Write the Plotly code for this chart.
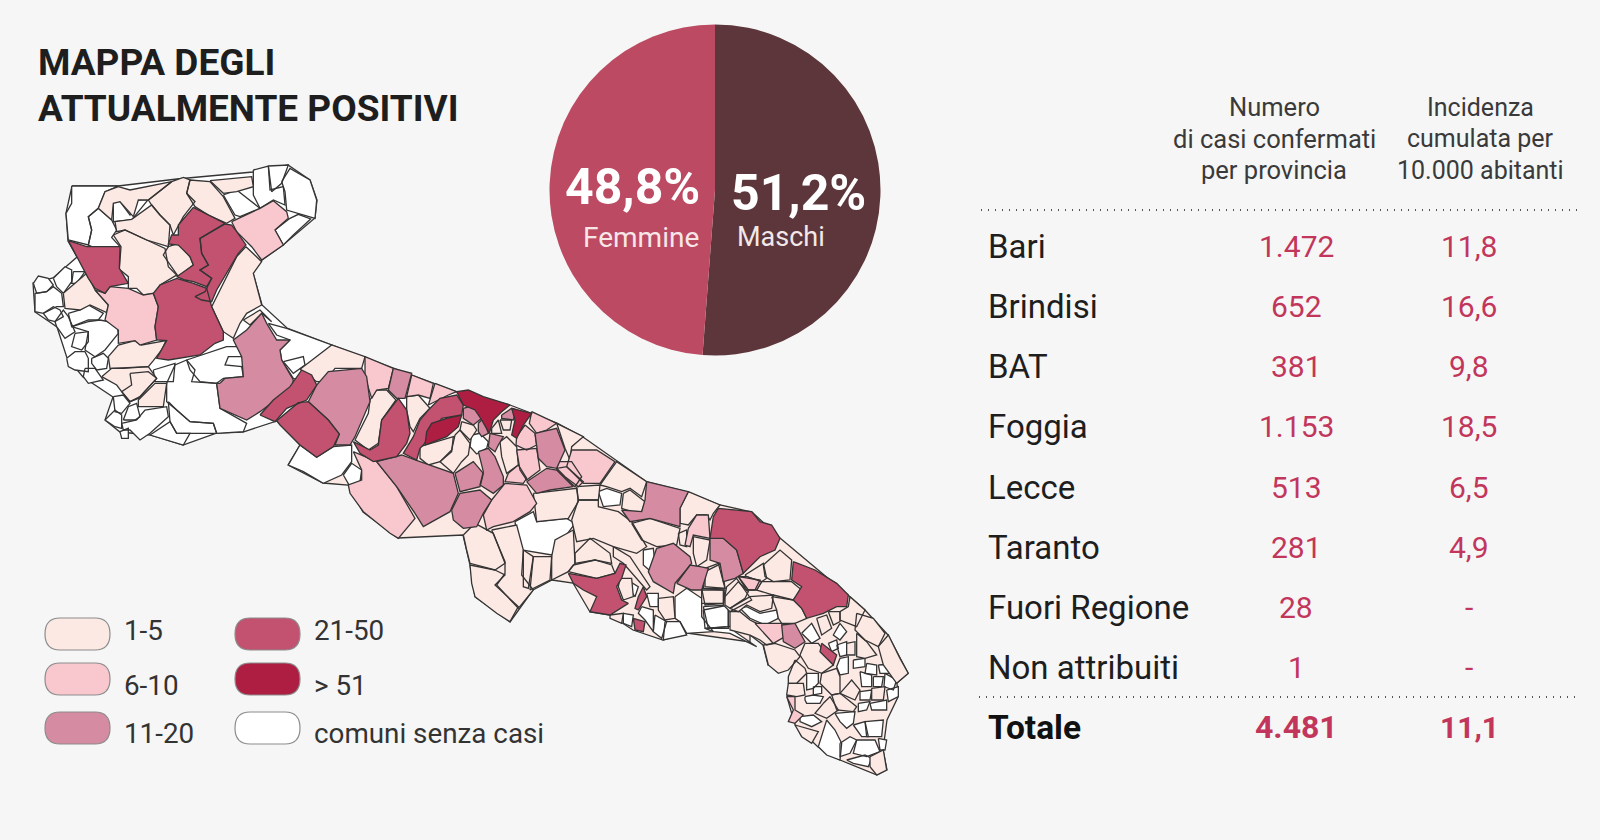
import plotly.graph_objects as go

FONT = "Roboto"
BG = "#F6F6F6"
INK = "#2B2B2B"
ACCENT = "#C2365C"

title_lines = ["MAPPA DEGLI", "ATTUALMENTE POSITIVI"]

sex_labels = ["Maschi", "Femmine"]
sex_values = [51.2, 48.8]
sex_colors = ["#5C363B", "#BB4A62"]

provinces = ["Bari", "Brindisi", "BAT", "Foggia", "Lecce", "Taranto", "Fuori Regione", "Non attribuiti"]
cases = ["1.472", "652", "381", "1.153", "513", "281", "28", "1"]
incidence = ["11,8", "16,6", "9,8", "18,5", "6,5", "4,9", "-", "-"]
total = ["Totale", "4.481", "11,1"]
header_cases = ["Numero", "di casi confermati", "per provincia"]
header_inc = ["Incidenza", "cumulata per", "10.000 abitanti"]

bin_names = ["comuni senza casi", "1-5", "6-10", "11-20", "21-50", "> 51"]
bin_colors = ["#FFFFFF", "#FDE9E4", "#F9C8CE", "#D58BA2", "#C25270", "#AD1E42"]

# Regional outline, map units
region_outline = [(72,186),(118,186),(177,179),(253,172),(288,165),(310,180),(317,200),(315,218),(283,245),(262,260),(253,273),(262,305),(287,328),(332,345),(365,357),(457,392),(510,405),(557,423),(583,437),(647,482),(688,492),(720,505),(752,512),(780,538),(848,595),(865,610),(888,635),(908,673),(897,683),(898,697),(887,720),(883,750),(887,770),(877,775),(840,760),(818,747),(795,725),(787,697),(795,660),(768,665),(763,645),(750,635),(750,642),(687,633),(663,640),(633,630),(610,615),(590,612),(573,583),(552,580),(533,590),(510,622),(475,597),(470,565),(463,535),(398,538),(363,512),(348,485),(323,483),(288,465),(300,445),(277,421),(243,432),(217,433),(183,445),(150,435),(120,432),(105,420),(113,397),(83,377),(67,358),(57,327),(35,312),(33,283),(53,278),(77,257),(68,241),(66,213)]
# Ground tone of the south-eastern provinces: the part of the outline from Bari round to Altamura
ground_from = 15
ground_to = 59

# Municipal outlines per area: (bin index, vertices); vertices in the area's own 3x map units
foggia_origin = (20, 150)
foggia = [
(0,[(155,108),(295,108),(255,125),(235,175),(205,200),(215,240),(205,285),(145,270),(138,190),(155,160)]),
(0,[(235,175),(275,210),(290,240),(275,262),(300,290),(240,300),(205,285),(215,240),(205,200)]),
(1,[(235,175),(255,125),(295,110),(330,120),(455,95),(385,150),(355,150),(340,200),(300,155),(280,160),(275,210)]),
(0,[(280,155),(300,155),(330,195),(350,150),(385,148),(335,210),(280,215)]),
(1,[(285,215),(335,208),(395,165),(420,195),(450,225),(445,290),(380,270),(315,240),(290,245)]),
(1,[(385,150),(455,95),(490,82),(510,90),(500,130),(525,155),(490,200),(460,255),(450,225),(420,195),(395,165)]),
(1,[(510,90),(570,95),(610,140),(645,205),(620,220),(565,195),(525,170),(500,130)]),
(1,[(570,92),(695,80),(700,110),(650,125),(610,130)]),
(0,[(700,60),(745,48),(750,120),(790,110),(795,165),(760,150),(720,175),(700,135)]),
(0,[(610,135),(650,120),(720,175),(660,200),(645,195)]),
(0,[(745,48),(805,45),(785,100),(755,125)]),
(0,[(785,95),(810,55),(870,90),(890,150),(885,205),(830,190),(800,180),(795,125)]),
(2,[(635,215),(720,175),(760,152),(800,185),(805,205),(765,240),(790,285),(725,330),(695,290),(650,245)]),
(0,[(765,240),(810,205),(835,193),(872,207),(820,255),(790,285)]),
(4,[(520,172),(615,220),(540,265),(545,310),(565,345),(540,360),(575,385),(560,410),(520,395),(495,390),(470,380),(520,345),(510,320),(475,285),(445,282),(455,255),(475,255),(475,225)]),
(4,[(615,222),(635,225),(650,245),(678,285),(655,310),(625,360),(590,420),(575,455),(545,450),(525,440),(555,425),(575,385),(540,360),(565,345),(545,310),(540,265)]),
(1,[(445,290),(475,280),(510,320),(520,345),(475,380),(450,345),(430,315)]),
(1,[(280,255),(315,240),(380,270),(435,295),(445,350),(470,375),(420,405),(410,430),(370,435),(350,415),(325,415),(325,380),(298,358),(303,290)]),
(4,[(145,272),(200,290),(300,290),(298,355),(325,400),(270,410),(255,430),(225,415),(205,385),(170,320)]),
(4,[(420,405),(445,395),(470,385),(520,400),(560,415),(575,470),(610,545),(610,570),(585,580),(540,615),(445,630),(410,625),(430,590),(440,572),(410,570),(405,530),(415,470),(400,430)]),
(1,[(678,290),(725,335),(700,370),(725,465),(680,490),(660,520),(640,565),(610,545),(575,470),(610,400),(650,320)]),
(2,[(225,420),(255,430),(270,410),(325,415),(370,435),(400,430),(415,470),(405,530),(410,570),(360,585),(345,572),(295,580),(295,540),(255,510),(265,465)]),
(1,[(265,620),(295,585),(345,572),(365,585),(438,572),(425,600),(400,632),(385,650),(310,655),(270,655)]),
(1,[(130,430),(200,370),(225,420),(265,465),(260,488),(210,465),(180,480),(135,475)]),
(0,[(40,400),(55,378),(85,385),(100,405),(80,425),(50,430)]),
(0,[(45,430),(80,425),(100,410),(125,430),(130,470),(110,470),(70,490),(45,485)]),
(0,[(100,385),(135,350),(155,360),(155,395),(130,430),(110,410)]),
(0,[(160,365),(195,365),(170,400),(155,400)]),
(0,[(70,490),(100,470),(120,480),(130,500),(105,515),(85,510)]),
(0,[(105,515),(130,480),(145,500),(165,545),(135,565),(110,530)]),
(0,[(145,490),(180,480),(205,465),(250,490),(235,510),(205,510),(155,530)]),
(0,[(155,530),(205,515),(240,510),(290,520),(295,550),(255,600),(225,620),(195,600),(205,545)]),
(0,[(165,550),(205,545),(205,575),(185,600),(155,590)]),
(0,[(140,625),(165,605),(195,605),(205,625),(205,665),(165,660),(145,650)]),
(0,[(215,625),(250,610),(265,625),(260,655),(230,660),(215,640)]),
(0,[(195,655),(225,655),(250,690),(205,700),(190,680)]),
(1,[(245,680),(275,655),(385,650),(410,685),(355,745),(330,755),(305,725),(290,705)]),
(1,[(330,670),(385,665),(410,685),(360,740),(330,755),(305,725),(335,705)]),
(1,[(355,750),(405,700),(440,700),(430,770),(355,770)]),
(0,[(400,660),(465,640),(460,695),(405,695)]),
(0,[(440,700),(465,645),(500,630),(525,660),(515,695),(590,700),(600,775),(680,820),(670,845),(590,850),(580,820),(510,815),(470,780),(440,755)]),
(0,[(500,630),(560,610),(620,590),(660,590),(670,620),(625,620),(615,645),(665,650),(670,680),(610,685),(590,700),(540,695),(510,660)]),
(3,[(600,700),(615,685),(670,680),(665,620),(640,570),(680,540),(725,490),(740,520),(770,570),(810,570),(780,600),(785,630),(820,690),(815,715),(780,740),(720,785),(680,810),(600,775),(590,700)]),
(0,[(745,520),(800,535),(935,585),(920,620),(880,630),(855,655),(835,690),(820,685),(785,630),(780,600),(810,570),(770,555)]),
(1,[(670,510),(720,480),(755,515),(725,490),(690,525)]),
(0,[(280,740),(310,735),(330,760),(305,790),(285,785)]),
(0,[(310,810),(325,770),(350,760),(360,800),(345,810)]),
(0,[(255,810),(285,780),(305,795),(305,835),(285,830)]),
(0,[(305,820),(350,810),(375,780),(440,770),(445,800),(390,850),(360,870),(330,840),(310,840)]),
(0,[(300,845),(325,835),(325,865),(305,865)]),
(0,[(390,855),(450,815),(470,850),(510,850),(490,885),(440,870)]),
(0,[(445,755),(470,780),(510,815),(580,820),(590,850),(510,850),(470,850),(450,815)]),
]

bari_origin = (250, 330)
bari = [
(4,[(30,255),(70,210),(120,170),(130,155),(155,120),(185,135),(200,165),(170,210),(110,235),(75,275)]),
(4,[(80,272),(145,218),(175,215),(235,270),(268,312),(250,350),(200,382),(150,345),(90,285)]),
(3,[(175,215),(200,165),(235,125),(335,115),(350,140),(360,215),(315,320),(300,345),(255,345),(268,312),(235,270)]),
(1,[(150,118),(245,45),(345,80),(335,115),(255,115),(225,155),(200,155)]),
(0,[(100,95),(160,80),(165,105),(130,130)]),
(2,[(345,80),(430,115),(415,175),(380,180),(365,205),(345,140)]),
(3,[(430,115),(485,130),(465,205),(440,205),(415,180)]),
(2,[(485,135),(550,160),(540,205),(505,195),(470,200)]),
(2,[(555,160),(620,185),(595,195),(535,225)]),
(1,[(380,180),(410,180),(438,210),(395,270),(385,340),(355,360),(315,330),(355,250),(360,210)]),
(4,[(310,335),(360,360),(385,345),(395,270),(445,205),(470,240),(480,310),(470,340),(440,380),(370,395),(330,370)]),
(1,[(470,200),(505,195),(540,235),(510,265),(490,305),(480,290),(470,240)]),
(4,[(535,240),(570,205),(620,195),(640,225),(635,255),(575,265),(520,345),(510,355),(500,390),(460,370),(490,320),(510,270)]),
(5,[(530,305),(545,280),(590,265),(635,255),(625,290),(590,320),(525,345)]),
(5,[(620,185),(655,180),(700,200),(780,225),(755,245),(730,270),(718,310),(695,270),(675,240),(640,225)]),
(3,[(640,235),(675,225),(695,265),(670,285),(640,265)]),
(1,[(635,275),(670,285),(680,300),(660,330),(630,300)]),
(3,[(685,280),(700,265),(715,310),(695,320),(685,305)]),
(0,[(665,315),(690,310),(715,335),(710,355),(680,372),(660,350)]),
(1,[(510,350),(610,320),(605,365),(570,395),(535,405),(510,385)]),
(1,[(615,315),(630,300),(660,340),(655,375),(635,395),(610,430),(570,395),(605,360)]),
(3,[(720,310),(760,320),(745,345),(735,365),(715,350)]),
(1,[(725,295),(745,270),(755,310),(725,310)]),
(1,[(750,270),(785,270),(780,300),(760,300)]),
(3,[(755,255),(785,235),(800,240),(790,270),(755,265)]),
(5,[(785,235),(845,250),(820,285),(800,325),(785,315),(795,270)]),
(2,[(845,245),(920,280),(890,300),(860,310),(838,280)]),
(2,[(825,285),(855,310),(860,345),(830,360),(798,345),(800,320)]),
(3,[(855,310),(920,295),(945,360),(920,415),(890,410),(865,385)]),
(1,[(920,280),(1000,320),(965,350),(960,390),(945,355)]),
(2,[(925,395),(965,395),(995,440),(975,470),(920,420)]),
(2,[(800,360),(860,355),(870,420),(830,450),(810,420)]),
(3,[(830,455),(890,415),(920,420),(970,470),(900,480),(860,490)]),
(1,[(750,335),(770,320),(800,350),(805,405),(770,430),(755,380)]),
(2,[(775,430),(805,405),(830,445),(820,460),(765,455)]),
(3,[(685,365),(715,355),(735,380),(760,440),(760,465),(730,490),(690,465),(700,425)]),
(3,[(615,430),(670,395),(700,430),(690,470),(630,485)]),
(3,[(380,395),(455,375),(510,395),(610,430),(625,490),(600,545),(520,590),(495,550),(440,470)]),
(3,[(605,540),(630,490),(690,480),(725,510),(700,550),(680,590),(640,595),(610,570)]),
(2,[(725,510),(765,460),(830,465),(860,520),(840,545),(790,575),(730,590),(710,600),(700,555)]),
(2,[(310,365),(380,395),(440,470),(495,565),(445,625),(420,610),(340,545),(300,490),(295,465),(335,450),(335,420)]),
(0,[(115,405),(150,345),(200,382),(250,350),(305,345),(305,395),(275,435),(220,460),(160,425)]),
(0,[(280,435),(305,400),(335,420),(330,455),(300,470)]),
]

taranto_origin = (450, 450)
taranto = [
(2,[(365,0),(440,0),(495,35),(450,100),(400,100),(350,50)]),
(2,[(320,55),(350,50),(400,95),(385,110),(345,80)]),
(1,[(250,130),(380,115),(385,155),(355,205),(260,215)]),
(1,[(380,110),(450,105),(445,150),(385,150)]),
(1,[(40,255),(75,220),(130,250),(165,340),(135,360),(60,340),(50,300)]),
(1,[(125,240),(200,225),(220,300),(215,375),(250,420),(205,475),(140,405),(165,370),(165,335)]),
(1,[(60,345),(135,360),(165,375),(135,405),(205,470),(180,515),(140,490),(75,440),(65,400)]),
(0,[(195,215),(250,185),(260,215),(350,205),(375,220),(305,315),(215,300),(200,250)]),
(1,[(220,300),(250,320),(235,415),(220,410)]),
(1,[(250,320),(305,320),(300,390),(240,420)]),
(1,[(305,320),(315,270),(370,240),(375,340),(355,365),(305,390)]),
(1,[(375,310),(420,265),(480,310),(485,340),(435,330),(375,340)]),
(1,[(370,345),(435,330),(485,345),(495,370),(440,385),(355,365)]),
(4,[(355,370),(440,385),(495,370),(510,340),(528,345),(515,385),(500,410),(515,450),(535,460),(480,495),(420,485),(440,440),(400,420),(370,400)]),
(4,[(580,410),(590,440),(565,480),(555,475),(565,440)]),
(4,[(550,505),(585,515),(580,545),(555,540)]),
(1,[(510,385),(545,385),(550,440),(520,450),(505,410)]),
(0,[(540,395),(565,410),(555,440),(540,420)]),
(0,[(520,490),(550,495),(545,530),(520,520)]),
(0,[(575,470),(610,480),(610,545),(585,510),(565,490)]),
(1,[(480,495),(520,490),(515,520),(480,505)]),
(0,[(615,495),(650,515),(635,565),(610,545)]),
(0,[(590,430),(625,430),(625,470),(600,470)]),
(0,[(645,515),(690,515),(710,555),(640,570)]),
(1,[(625,445),(670,440),(675,505),(645,510),(625,480)]),
(0,[(675,440),(710,415),(755,445),(755,500),(790,545),(710,550),(690,515),(675,505)]),
(0,[(760,480),(835,465),(835,530),(765,535)]),
(0,[(790,545),(765,535),(835,530),(855,525),(855,545),(900,575),(920,590),(840,550)]),
(1,[(365,210),(385,150),(445,150),(445,170),(505,185),(545,215),(590,290),(560,310),(490,290),(430,265),(380,275)]),
(0,[(445,125),(470,115),(515,130),(510,165),(460,170)]),
(1,[(520,130),(540,120),(585,155),(575,185),(545,185),(515,175)]),
(1,[(450,105),(500,35),(590,95),(575,140),(540,115),(515,125),(470,110)]),
(3,[(590,95),(715,125),(690,175),(690,230),(600,205),(540,215),(515,180),(575,185),(585,150)]),
(1,[(715,125),(810,165),(790,190),(780,210),(770,195),(740,195),(715,225),(690,220),(690,175)]),
(4,[(805,175),(905,185),(930,215),(965,225),(990,265),(975,300),(930,320),(880,370),(860,300),(820,265),(780,265),(790,200)]),
(1,[(545,220),(600,205),(690,235),(680,285),(620,290),(575,270)]),
(3,[(620,295),(670,280),(720,320),(725,340),(675,400),(670,430),(610,395),(595,365)]),
(3,[(680,400),(720,345),(750,350),(775,355),(755,420),(725,420)]),
(2,[(715,235),(740,195),(775,195),(780,265),(730,255),(720,290),(705,285)]),
(1,[(730,260),(780,270),(770,330),(740,350),(730,310)]),
(1,[(685,250),(710,240),(710,290),(690,285)]),
(3,[(780,265),(820,265),(860,300),(880,370),(855,385),(820,395),(810,340),(780,330)]),
(1,[(765,355),(805,340),(825,415),(760,415)]),
(1,[(755,420),(825,420),(820,460),(755,460)]),
(1,[(830,410),(860,385),(905,450),(840,485),(820,465)]),
(2,[(865,380),(930,390),(915,420),(890,420)]),
(1,[(490,290),(540,320),(600,410),(590,420),(520,340),(490,320)]),
(0,[(580,300),(610,295),(615,340),(600,362),(580,345)]),
]

salento_origin = (680, 540)
salento = [
(1,[(250,75),(300,30),(335,60),(330,120),(280,125),(255,110)]),
(1,[(195,105),(250,70),(260,115),(245,125),(200,110)]),
(2,[(175,110),(200,110),(245,125),(230,150),(205,150)]),
(1,[(135,170),(175,125),(205,155),(195,175),(150,205),(135,195)]),
(0,[(70,200),(145,195),(145,265),(85,265)]),
(1,[(65,145),(130,150),(130,190),(75,195)]),
(1,[(75,95),(125,70),(135,145),(75,140)]),
(1,[(150,205),(210,170),(280,165),(275,205),(240,215),(200,195),(175,215)]),
(1,[(245,125),(280,125),(335,125),(365,150),(340,180),(280,165),(230,150)]),
(1,[(275,170),(340,180),(365,205),(380,235),(345,250),(305,250),(295,235),(290,210)]),
(0,[(180,205),(200,200),(240,220),(290,210),(295,235),(255,255),(210,235)]),
(1,[(150,215),(180,215),(210,240),(230,250),(280,310),(260,315),(240,300),(210,285),(150,270)]),
(2,[(225,250),(305,250),(315,290),(280,310)]),
(3,[(305,255),(345,250),(375,305),(345,325),(310,305)]),
(1,[(250,315),(285,310),(345,330),(360,350),(325,390),(295,400),(265,375)]),
(1,[(345,360),(375,385),(380,400),(350,430),(325,430),(325,410)]),
(1,[(325,430),(370,430),(375,465),(350,470),(320,465)]),
(2,[(320,470),(345,470),(345,510),(370,525),(345,550),(325,545),(340,510)]),
(0,[(365,280),(395,250),(420,295),(395,310)]),
(1,[(375,310),(415,310),(460,375),(425,400),(385,385),(360,345)]),
(4,[(425,310),(470,345),(460,375),(420,335)]),
(1,[(510,170),(555,210),(530,260),(480,240),(480,215),(505,200)]),
(1,[(530,220),(580,235),(615,280),(595,320),(555,300),(525,270)]),
(1,[(595,320),(625,285),(660,355),(685,400),(650,430),(610,375)]),
(1,[(530,280),(560,305),(590,345),(555,355),(530,350)]),
(1,[(445,215),(480,215),(480,245),(460,255)]),
(0,[(480,250),(500,275),(480,300),(460,285)]),
(0,[(470,315),(500,305),(500,345),(480,350)]),
(0,[(445,310),(470,300),(475,325),(455,335)]),
(1,[(500,310),(525,305),(525,345),(500,345)]),
(1,[(410,235),(440,225),(455,265),(425,285)]),
(0,[(480,355),(505,350),(505,400),(480,405),(470,380)]),
(1,[(425,400),(470,385),(480,410),(480,460),(455,465),(420,430)]),
(1,[(480,460),(515,420),(540,450),(525,480)]),
(0,[(520,360),(555,355),(555,380),(520,385)]),
(0,[(560,370),(590,375),(590,405),(555,400)]),
(0,[(595,375),(640,372),(630,400),(600,400)]),
(0,[(540,395),(575,405),(575,440),(545,440)]),
(0,[(580,410),(610,410),(605,440),(580,440)]),
(0,[(615,400),(650,420),(640,450),(612,440)]),
(0,[(620,450),(655,440),(655,470),(625,485)]),
(0,[(540,455),(575,450),(570,480),(540,480)]),
(1,[(575,445),(615,440),(610,480),(575,480)]),
(0,[(535,490),(570,485),(560,510),(535,515)]),
(0,[(570,490),(620,480),(620,510),(575,510)]),
(0,[(555,545),(610,540),(605,590),(560,590)]),
(0,[(380,400),(415,400),(415,430),(400,445),(380,450)]),
(0,[(400,440),(425,440),(425,460),(400,465)]),
(0,[(375,470),(400,465),(430,470),(420,490),(380,490),(375,480)]),
(1,[(430,490),(450,470),(475,510),(440,535),(405,520)]),
(1,[(455,465),(480,460),(530,500),(520,515),(470,510)]),
(1,[(345,555),(395,570),(415,575),(395,610),(365,590)]),
(0,[(360,530),(400,525),(425,545),(395,560),(360,545)]),
(0,[(415,620),(440,540),(465,570),(485,610),(480,660),(440,645)]),
(0,[(465,520),(525,515),(520,550),(500,565),(480,545)]),
(0,[(520,555),(555,545),(565,590),(545,590)]),
(0,[(480,610),(510,590),(530,600),(510,640),(480,650)]),
(0,[(530,600),(560,600),(585,600),(600,635),(560,650),(520,640)]),
(0,[(500,660),(555,645),(575,655),(565,680),(520,670)]),
(1,[(570,650),(610,630),(620,690),(590,705),(570,680)]),
(0,[(595,595),(620,600),(615,630),(600,630)]),
(4,[(340,65),(405,90),(470,130),(505,165),(500,200),(470,200),(430,220),(380,235),(365,205),(340,180),(365,140),(335,120)]),
(2,[(365,110),(385,110),(385,140),(400,185),(375,175),(365,150)]),
]

areas = [(foggia_origin, foggia), (bari_origin, bari), (taranto_origin, taranto), (salento_origin, salento)]

fig = go.Figure()


def closed(pts):
    xs = [p[0] for p in pts] + [pts[0][0], None]
    ys = [p[1] for p in pts] + [pts[0][1], None]
    return xs, ys


LINE = dict(color="#343434", width=1.3)
ox, oy = closed(region_outline)
fig.add_trace(go.Scatter(x=ox, y=oy, mode="lines", fill="toself", fillcolor="#FFFFFF", line=dict(width=0),
                         hoverinfo="skip", showlegend=False))
gx, gy = closed(region_outline[ground_from:ground_to])
fig.add_trace(go.Scatter(x=gx, y=gy, mode="lines", fill="toself", fillcolor=bin_colors[1], line=dict(width=0),
                         hoverinfo="skip", showlegend=False))
fig.add_trace(go.Scatter(x=ox, y=oy, mode="lines", line=LINE, hoverinfo="skip", showlegend=False))

for b, colour in enumerate(bin_colors):
    xs, ys = [], []
    for (x0, y0), muni in areas:
        for k, pts in muni:
            if k != b:
                continue
            cx_, cy_ = closed([(x0 + px / 3, y0 + py / 3) for px, py in pts])
            xs += cx_
            ys += cy_
    fig.add_trace(go.Scatter(x=xs, y=ys, mode="lines", fill="toself", fillcolor=colour, line=LINE,
                             name=bin_names[b], hoverinfo="skip", showlegend=False))

# Pie
cx, cy, r = 715, 190, 165.5
fig.add_trace(go.Pie(labels=sex_labels, values=sex_values, sort=False, direction="clockwise", rotation=0,
                     marker=dict(colors=sex_colors, line=dict(width=0)), textinfo="none", hoverinfo="skip",
                     showlegend=False,
                     domain=dict(x=[(cx - r) / 1600, (cx + r) / 1600], y=[1 - (cy + r) / 840, 1 - (cy - r) / 840])))

ann = []


def text(x, y, s, size, colour=INK, anchor="center", bold=False):
    ann.append(dict(x=x, y=y, xref="x", yref="y", text=f"<b>{s}</b>" if bold else s, showarrow=False,
                    xanchor=anchor, yanchor="middle", font=dict(family=FONT, size=size, color=colour)))


for i, line in enumerate(title_lines):
    text(36, 62 + 46 * i, line, 37, "#1E1E1E", "left", True)

text(632, 187, f"{sex_values[1]:.1f}%".replace(".", ","), 50, "white", bold=True)
text(641, 237, sex_labels[1], 28, "#F7E6E8")
text(798, 193, f"{sex_values[0]:.1f}%".replace(".", ","), 50, "white", bold=True)
text(781, 237, sex_labels[0], 27, "#F3E8E8")

for i, (a, b) in enumerate(zip(header_cases, header_inc)):
    y = 107 + 31.5 * i
    text(1274, y, a, 25.5, "#3A3A3A")
    text(1480, y, b, 25, "#3A3A3A")

row_y = [246, 306, 366, 426, 487, 547, 607, 667]
for y, p, c, n in zip(row_y, provinces, cases, incidence):
    text(986, y, p, 33, "#1E1E1E", "left")
    text(1296, y, c, 30, ACCENT)
    text(1469, y, n, 30, ACCENT)
text(986, 727, total[0], 33.5, "#111111", "left", True)
text(1296, 727, total[1], 32, ACCENT, bold=True)
text(1469, 727, total[2], 30, ACCENT, bold=True)

# Rules
for y, x0, x1 in [(210, 981, 1580), (697, 979, 1578)]:
    fig.add_trace(go.Scatter(x=[x0, x1], y=[y, y], mode="lines", hoverinfo="skip", showlegend=False,
                             line=dict(color="#555555", width=2, dash="1px 6px")))

# Legend
shapes = []
legend_slots = [(1, 45, 618, 122, 630), (2, 45, 663, 122, 685), (3, 45, 712, 122, 733),
                (4, 235, 618, 312, 630), (5, 235, 663, 312, 685), (0, 235, 712, 312, 733)]
for b, x0, y0, tx, ty in legend_slots:
    w, h, rr = 65, 32, 15
    path = (f"M{x0+rr},{y0} L{x0+w-rr},{y0} Q{x0+w},{y0} {x0+w},{y0+h/2} Q{x0+w},{y0+h} {x0+w-rr},{y0+h} "
            f"L{x0+rr},{y0+h} Q{x0},{y0+h} {x0},{y0+h/2} Q{x0},{y0} {x0+rr},{y0} Z")
    shapes.append(dict(type="path", path=path, xref="x", yref="y", fillcolor=bin_colors[b],
                       line=dict(color="#8C8C8C", width=1.2)))
    text(tx, ty, bin_names[b], 27.8, "#333333", "left")

fig.update_layout(width=1600, height=840, margin=dict(l=0, r=0, t=0, b=0), paper_bgcolor=BG, plot_bgcolor=BG,
                  xaxis=dict(range=[0, 1600], visible=False, fixedrange=True),
                  yaxis=dict(range=[840, 0], visible=False, fixedrange=True),
                  annotations=ann, shapes=shapes, showlegend=False)

fig.write_html("out.html", config={"displayModeBar": False},
               post_script="document.body.style.margin='0';document.body.style.background='#F6F6F6';")
